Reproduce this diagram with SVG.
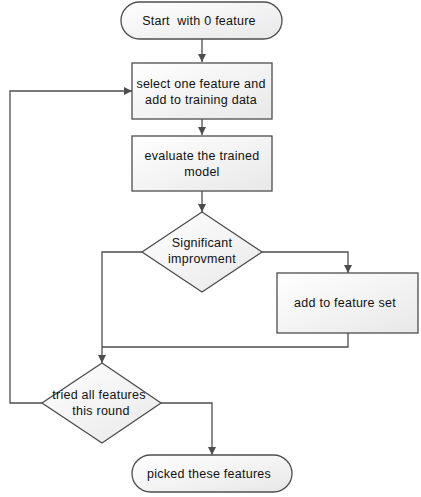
<svg xmlns="http://www.w3.org/2000/svg" width="421" height="497" viewBox="0 0 421 497">
<style>
.shape{fill:url(#g);stroke:#4d4d4d;stroke-width:1.3}
.t{font-family:"Liberation Sans",Arial,sans-serif;font-size:12.5px;fill:#111;text-anchor:middle;letter-spacing:0.25px}
.c{fill:none;stroke:#4d4d4d;stroke-width:1.3}
</style>
<defs>
<linearGradient id="g" x1="0" y1="0" x2="1" y2="1">
<stop offset="0" stop-color="#ffffff"/>
<stop offset="1" stop-color="#e8e8e8"/>
</linearGradient>
<marker id="a" viewBox="0 0 10 10" refX="10" refY="5" markerWidth="8" markerHeight="8" markerUnits="userSpaceOnUse" orient="auto">
<path d="M0,0 L10,5 L0,10 z" fill="#4d4d4d"/>
</marker>
</defs>
<g id="connectors">
<path class="c" d="M202,39 V62" marker-end="url(#a)"/>
<path class="c" d="M202,119 V135" marker-end="url(#a)"/>
<path class="c" d="M202,191 V212" marker-end="url(#a)"/>
<path class="c" d="M262,252 H348 V273" marker-end="url(#a)"/>
<path class="c" d="M142,252 H102 V363" marker-end="url(#a)"/>
<path class="c" d="M348,333 V347 H102"/>
<path class="c" d="M42,403 H10 V91 H132" marker-end="url(#a)"/>
<path class="c" d="M161,403 H212 V455" marker-end="url(#a)"/>
</g>
<g id="start">
<rect class="shape" x="121" y="2" width="161" height="37" rx="18.5"/>
<text class="t" x="199" y="24.5" xml:space="preserve">Start  with 0 feature</text>
</g>
<g id="select">
<rect class="shape" x="132" y="63" width="140" height="56"/>
<text class="t" x="201" y="88">select one feature and</text>
<text class="t" x="201" y="104">add to training data</text>
</g>
<g id="evaluate">
<rect class="shape" x="132" y="136" width="140" height="55"/>
<text class="t" x="202" y="160">evaluate the trained</text>
<text class="t" x="202" y="176">model</text>
</g>
<g id="significant">
<polygon class="shape" points="202,212 262,252 202,292 142,252"/>
<text class="t" x="202" y="247">Significant</text>
<text class="t" x="202" y="263">improvment</text>
</g>
<g id="addset">
<rect class="shape" x="277" y="273" width="141" height="60"/>
<text class="t" x="345" y="307">add to feature set</text>
</g>
<g id="tried">
<polygon class="shape" points="102,363 161,403 102,443 42,403"/>
<text class="t" x="99" y="399">tried all features</text>
<text class="t" x="101" y="415">this round</text>
</g>
<g id="picked">
<rect class="shape" x="132" y="455" width="160" height="37" rx="18.5"/>
<text class="t" x="209" y="478">picked these features</text>
</g>
</svg>
